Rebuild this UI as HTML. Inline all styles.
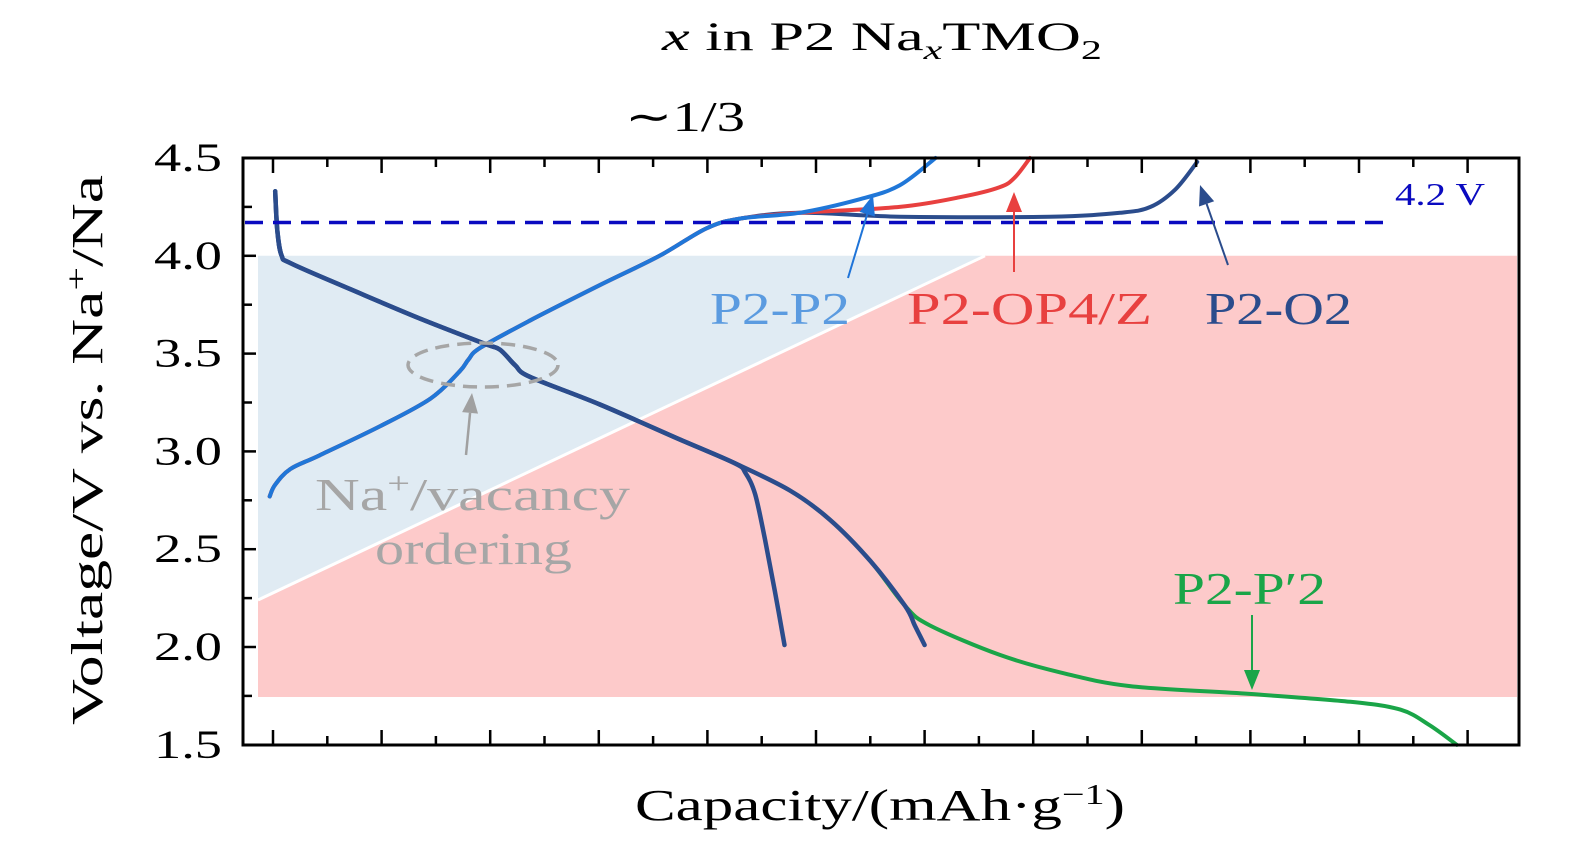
<!DOCTYPE html>
<html><head><meta charset="utf-8"><style>
body{margin:0;background:#fff;}
svg{display:block;font-family:"Liberation Serif",serif;}
</style></head><body>
<svg id="chart" width="1575" height="846" viewBox="0 0 1575 846">
<g id="bg"></g>
<g id="curves"></g>
<g id="axes"></g>
<g id="ann"></g>
</svg>
<script>
const yTicks=[1.5,2.0,2.5,3.0,3.5,4.0,4.5];
const xTickCount=[0,1,2,3,4,5,6,7,8,9,10,11];
const cap=[-0.03,0.02,0.16,0.43,0.99,1.45,1.72,1.80,1.91,2.37,3.01,3.56,3.99,4.30,4.85];
const chg=[2.77,2.83,2.91,2.98,3.13,3.27,3.41,3.47,3.53,3.67,3.85,4.00,4.14,4.19,4.22];
const p2p2Cap=[5.41,5.77,6.10];
const p2p2V=[4.29,4.36,4.50];
const op4Cap=[5.77,6.33,6.69,6.83,6.97];
const op4V=[4.25,4.30,4.35,4.40,4.50];
const o2Cap=[5.77,7.15,7.80,8.08,8.31,8.51];
const o2V=[4.20,4.20,4.22,4.25,4.34,4.48];
const disCap=[0.02,0.04,0.08,0.17,0.71,1.35,1.95,2.09,2.23,2.37,3.01,3.75,4.25];
const disV=[4.33,4.13,4.00,3.96,3.83,3.68,3.55,3.52,3.44,3.38,3.24,3.06,2.94];
const brACap=[4.35,4.44,4.53,4.62,4.71];
const brAV=[2.89,2.78,2.55,2.29,2.01];
const brBCap=[4.76,5.13,5.50,5.82,5.91,6.00];
const brBV=[2.80,2.65,2.44,2.21,2.11,2.01];
const grCap=[4.76,5.13,5.50,5.82,6.05,6.69,7.25,7.89,8.99,9.92,10.38,10.65,10.90];
const grV=[2.80,2.65,2.44,2.21,2.11,1.96,1.87,1.80,1.76,1.72,1.68,1.60,1.50];
const refV=4.17;

const X=c=>273+c*108.6, Y=v=>158+(4.5-v)*195.6;
const NS="http://www.w3.org/2000/svg";
function mk(tag,attrs,parent,text){const e=document.createElementNS(NS,tag);for(const k in attrs)e.setAttribute(k,attrs[k]);if(text!==undefined)e.textContent=text;document.getElementById(parent).appendChild(e);return e;}
function smooth(cs,vs){const p=cs.map((c,i)=>[X(c),Y(vs[i])]);let d=`M${p[0][0].toFixed(1)},${p[0][1].toFixed(1)}`;
for(let i=0;i<p.length-1;i++){const p0=p[i-1]||p[i],p1=p[i],p2=p[i+1],p3=p[i+2]||p2;
const c1=[p1[0]+(p2[0]-p0[0])/6,p1[1]+(p2[1]-p0[1])/6],c2=[p2[0]-(p3[0]-p1[0])/6,p2[1]-(p3[1]-p1[1])/6];
d+=` C${c1[0].toFixed(1)},${c1[1].toFixed(1)} ${c2[0].toFixed(1)},${c2[1].toFixed(1)} ${p2[0].toFixed(1)},${p2[1].toFixed(1)}`;}return d;}
function join(a1,b1,a2,b2){return [a1.concat(a2),b1.concat(b2)];}

let e=mk('polygon',{points:`258,${Y(4)} 985,${Y(4)} 258,600`,fill:'#e0ebf3'},'bg');


e=mk('polygon',{points:`258,600 985,${Y(4)} 1517,${Y(4)} 1517,697 258,697`,fill:'#fdcaca'},'bg');


e=mk('line',{x1:258,y1:600,x2:985,y2:Y(4),stroke:'#fff','stroke-width':3},'bg');



function curve(cs,vs,color,w,name){const p=mk('path',{d:smooth(cs,vs),fill:'none',stroke:color,'stroke-width':w,'stroke-linejoin':'round','stroke-linecap':'round'},'curves');

}
let [c1,v1]=join(cap,chg,o2Cap,o2V); curve(c1,v1,'#2b4c8c',4,'p2-o2-charge');
[c1,v1]=join(cap,chg,op4Cap,op4V); curve(c1,v1,'#e8403f',4,'p2-op4-charge');
[c1,v1]=join(cap,chg,p2p2Cap,p2p2V); curve(c1,v1,'#2077d8',4,'p2-p2-charge');
[c1,v1]=join(disCap,disV,grCap,grV); curve(c1,v1,'#1aa548',4,'p2-p2prime-discharge');
[c1,v1]=join(disCap,disV,brBCap,brBV); curve(c1,v1,'#2b4c8c',4.5,'discharge-branch-b');
[c1,v1]=join(disCap,disV,brACap,brAV); curve(c1,v1,'#2b4c8c',4.5,'discharge-branch-a');
e=mk('line',{x1:245,y1:Y(refV),x2:1390,y2:Y(refV),stroke:'#0a0ac0','stroke-width':3.5,'stroke-dasharray':'18,10'},'curves');



e=mk('rect',{x:243,y:158,width:1276,height:587,fill:'none',stroke:'#000','stroke-width':3},'axes');


xTickCount.forEach(t=>{const x=X(t);
 mk('line',{x1:x,y1:745,x2:x,y2:730,stroke:'#000','stroke-width':2.5},'axes');
 mk('line',{x1:x,y1:158,x2:x,y2:173,stroke:'#000','stroke-width':2.5},'axes');
 const xm=X(t+0.5); if(xm<1515){
 mk('line',{x1:xm,y1:745,x2:xm,y2:736,stroke:'#000','stroke-width':2.5},'axes');
 mk('line',{x1:xm,y1:158,x2:xm,y2:167,stroke:'#000','stroke-width':2.5},'axes');}
});
yTicks.forEach(v=>{const y=Y(v);
 mk('line',{x1:243,y1:y,x2:256,y2:y,stroke:'#000','stroke-width':2.5},'axes');
 if(v<4.5)mk('line',{x1:243,y1:Y(v+0.25),x2:252,y2:Y(v+0.25),stroke:'#000','stroke-width':2.5},'axes');
 const t=mk('text',{x:154,y:y+13,'font-size':40,textLength:68,lengthAdjust:'spacingAndGlyphs'},'axes',v.toFixed(1));
 
 
});
</script>
<script>
(function(){
const NS="http://www.w3.org/2000/svg";
function mk(tag,attrs,text){const e=document.createElementNS(NS,tag);for(const k in attrs)e.setAttribute(k,attrs[k]);if(text!==undefined)e.innerHTML=text;document.getElementById('ann').appendChild(e);return e;}
let e;
e=mk('text',{x:662,y:50,'font-size':40,textLength:440,lengthAdjust:'spacingAndGlyphs'},'<tspan font-style="italic">x</tspan> in P2 Na<tspan font-size="27" dy="9" font-style="italic">x</tspan><tspan dy="-9">TMO</tspan><tspan font-size="27" dy="9">2</tspan>');


e=mk('text',{x:625,y:131,'font-size':42,textLength:120,lengthAdjust:'spacingAndGlyphs'},'∼1/3');


e=mk('text',{x:635,y:820,'font-size':44,textLength:490,lengthAdjust:'spacingAndGlyphs'},'Capacity/(mAh·g<tspan font-size="29" dy="-16">−1</tspan><tspan dy="16">)</tspan>');


e=mk('text',{x:0,y:0,'font-size':44,textLength:550,lengthAdjust:'spacingAndGlyphs',transform:'translate(102,725) rotate(-90)'},'Voltage/V vs. Na<tspan font-size="29" dy="-16">+</tspan><tspan dy="16">/Na</tspan>');


e=mk('text',{x:1395,y:205,'font-size':32,fill:'#0a0ac0',textLength:90,lengthAdjust:'spacingAndGlyphs'},'4.2 V');


const labs=[['P2-P2',710,324,'#5b9be0','label-p2-p2',140],['P2-OP4/Z',907,324,'#e8403f','label-p2-op4',245],['P2-O2',1205,324,'#2b4c8c','label-p2-o2',147],["P2-P′2",1173,604,'#1aa548','label-p2-p2prime',153]];
labs.forEach(l=>{e=mk('text',{x:l[1],y:l[2],'font-size':46,fill:l[3],textLength:l[5],lengthAdjust:'spacingAndGlyphs'},l[0]);

});
function arrow(x1,y1,x2,y2,c,w,name){const g=mk('g',{});const a=Math.atan2(y2-y1,x2-x1),L=20,H=8;
const bx=x2-L*Math.cos(a),by=y2-L*Math.sin(a);
g.innerHTML=`<line x1="${x1}" y1="${y1}" x2="${bx}" y2="${by}" stroke="${c}" stroke-width="${w}"/><polygon points="${x2},${y2} ${bx-H*Math.sin(a)},${by+H*Math.cos(a)} ${bx+H*Math.sin(a)},${by-H*Math.cos(a)}" fill="${c}"/>`;

}
arrow(848,278,873,195,'#1f74d8',2,'arrow-p2-p2');
arrow(1014,272,1014,192,'#e8403f',2,'arrow-p2-op4');
arrow(1228,265,1200,185,'#2b4c8c',2,'arrow-p2-o2');
arrow(1252,615,1252,690,'#1aa548',2,'arrow-p2-p2prime');
arrow(466,455,472,393,'#a0a0a0',2.5,'arrow-ordering');
e=mk('ellipse',{cx:483,cy:365,rx:75,ry:22,fill:'none',stroke:'#a6a6a6','stroke-width':3.5,'stroke-dasharray':'14,8'});


e=mk('text',{x:315,y:510,'font-size':46,fill:'#a6a6a6',textLength:315,lengthAdjust:'spacingAndGlyphs'},'Na<tspan font-size="30" dy="-17">+</tspan><tspan dy="17">/vacancy</tspan>');


e=mk('text',{x:375,y:564,'font-size':46,fill:'#a6a6a6',textLength:197,lengthAdjust:'spacingAndGlyphs'},'ordering');


})();
</script>
</body></html>
